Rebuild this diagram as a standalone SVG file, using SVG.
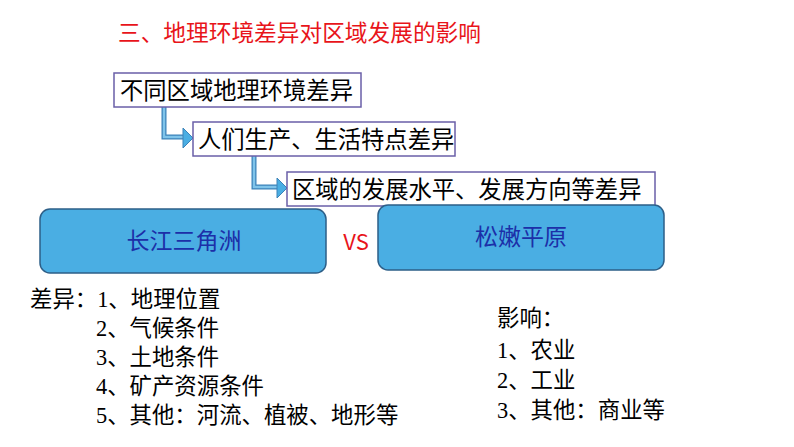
<svg xmlns="http://www.w3.org/2000/svg" width="794" height="447" viewBox="0 0 794 447">
<style>
.s{font-family:"Noto Sans CJK SC","Noto Sans",sans-serif}
.f{font-family:"Liberation Serif","Noto Sans CJK SC",serif;font-size:22.4px;fill:#000}
.box{fill:#fff;stroke:#6a5fa8;stroke-width:1.5}
.blue{fill:#4aaee3;stroke:#2d5f88;stroke-width:1.5}
.arr{fill:none;stroke:#3b82b8;stroke-width:5}
.arri{fill:none;stroke:#7fc4ea;stroke-width:2.5}
</style>
<rect width="794" height="447" fill="#fff"/>
<text class="s" x="118" y="41" font-size="22.7" fill="#e8141a">三、地理环境差异对区域发展的影响</text>
<g id="connectors">
<path class="arr" d="M164 107V137H185"/><path class="arri" d="M164 107V137H185"/>
<polygon points="183,128 193,138 183,148" fill="#4aaee3" stroke="#3b82b8"/>
<path class="arr" d="M254 156V187H279"/><path class="arri" d="M254 156V187H279"/>
<polygon points="277,178 287,188 277,198" fill="#4aaee3" stroke="#3b82b8"/>
</g>
<g id="n1"><rect class="box" x="114" y="73" width="247" height="34"/><text class="s" x="120" y="99" font-size="23.3">不同区域地理环境差异</text></g>
<g id="n2"><rect class="box" x="193" y="122" width="262" height="34"/><text class="s" x="198" y="148" font-size="23.3">人们生产、生活特点差异</text></g>
<g id="n3"><rect class="box" x="287" y="172" width="368" height="34"/><text class="s" x="292" y="198" font-size="23.3">区域的发展水平、发展方向等差异</text></g>
<g id="n4"><rect class="blue" x="40" y="209" width="286" height="64" rx="10"/><text class="s" x="184" y="249" font-size="23" fill="#1c2fa8" text-anchor="middle">长江三角洲</text></g>
<text class="s" x="356" y="250" font-size="22" fill="#e8141a" text-anchor="middle">VS</text>
<g id="n5"><rect class="blue" x="378" y="205" width="286" height="65" rx="10"/><text class="s" x="521" y="245" font-size="23" fill="#1c2fa8" text-anchor="middle">松嫩平原</text></g>
<text class="f" x="30" y="307">差异：1、地理位置</text>
<text class="f" x="96" y="336">2、气候条件</text>
<text class="f" x="96" y="365">3、土地条件</text>
<text class="f" x="96" y="394">4、矿产资源条件</text>
<text class="f" x="96" y="423">5、其他：河流、植被、地形等</text>
<text class="f" x="497" y="326">影响：</text>
<text class="f" x="497" y="358">1、农业</text>
<text class="f" x="497" y="388">2、工业</text>
<text class="f" x="497" y="418">3、其他：商业等</text>
</svg>
